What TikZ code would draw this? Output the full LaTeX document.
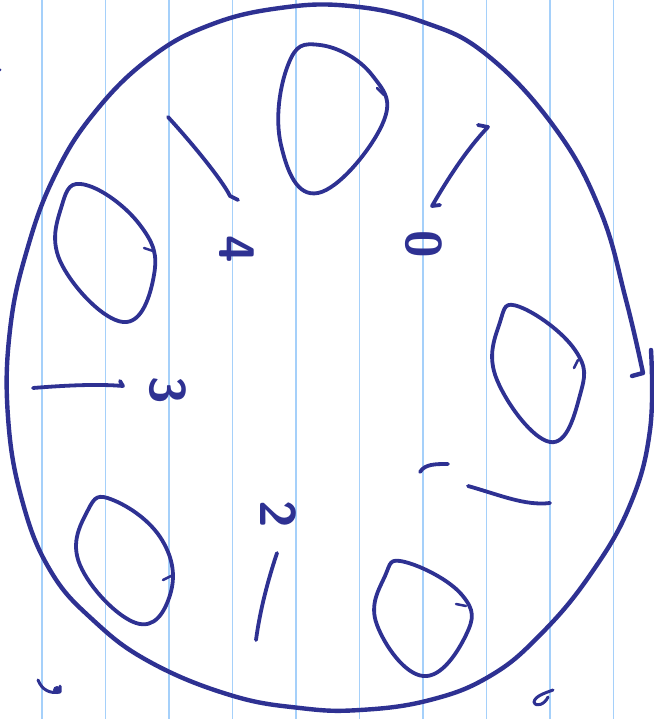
\documentclass[tikz,border=0pt]{standalone}
\usepackage{tikz}
\usetikzlibrary{arrows.meta,positioning}
\definecolor{ink}{RGB}{46,49,146}
\definecolor{ruled}{RGB}{165,208,250}
\tikzset{
  pen/.style={ink, line width=3.8pt, line cap=round, line join=round},
  digit/.style={ink, font=\fontsize{50}{50}\selectfont\sffamily\bfseries, rotate=-90, inner sep=0pt}
}

\begin{document}
\begin{tikzpicture}[x=1pt,y=-1pt]
\useasboundingbox (0,0) rectangle (653,719);
\fill[white] (0,0) rectangle (653,719);
\foreach \k in {0,...,9}
  \draw[ruled, line width=1.6pt] (42+63.5*\k,0) -- (42+63.5*\k,719);
% rim of the disc
\draw[pen, line width=4.4pt] (632,376) -- (643,373) plot[smooth, tension=0.7] coordinates {
  (643,373) (626,300) (600,210) (555,128) (487,55) (423,22) (350,6) (280,8)
  (210,25) (150,58) (95,112) (55,175) (27,250) (10,330) (8,417) (22,500)
  (50,570) (93,620) (150,662) (230,695) (300,708) (360,710) (430,700)
  (490,676) (540,635) (590,575) (630,505) (650,430) (651,350)};
% holes
\draw[pen] plot[smooth cycle, tension=0.75] coordinates {
  (320,45) (372,75) (382,125) (318,193) (281,145) (288,65)};
\draw[pen, line width=2.5pt] (377,88) -- (384,95);
\draw[pen] plot[smooth cycle, tension=0.75] coordinates {
  (86,185) (140,225) (154,275) (123,322) (62,265) (62,205)};
\draw[pen, line width=2.5pt] (144,248) -- (153,251);
\draw[pen] plot[smooth cycle, tension=0.75] coordinates {
  (520,307) (575,350) (580,395) (550,442) (497,380) (500,322)};
\draw[pen, line width=2.5pt] (578,360) -- (574,368);
\draw[pen] plot[smooth cycle, tension=0.75] coordinates {
  (113,500) (162,540) (170,595) (136,623) (80,565) (88,510)};
\draw[pen, line width=2.5pt] (163,580) -- (173,575);
\draw[pen] plot[smooth cycle, tension=0.75] coordinates {
  (405,562) (462,595) (466,635) (423,676) (377,625) (385,576)};
\draw[pen, line width=2.5pt] (456,604) -- (466,606);
% strokes between the holes
\draw[pen] (168,117) .. controls (200,152) and (225,185) .. (230,196) -- (238,200);
\draw[pen] (440,205) -- (432,206) .. controls (450,175) and (468,148) .. (488,127) -- (478,125);
\draw[pen] (33,388) .. controls (70,385) and (100,384) .. (123,386) -- (120,381);
\draw[pen] (277,553) .. controls (268,580) and (260,610) .. (256,640);
\draw[pen] (420,472) .. controls (425,464) and (435,464) .. (448,464);
\draw[pen] (468,486) .. controls (500,495) and (525,506) .. (550,503);
% numbers
\node[digit] (l0) at (424,244) {0};
\node[digit] (l4) at (237,249) {4};
\node[digit] (l3) at (168,390) {3};
\node[digit] (l2) at (278,514) {2};
% stray marks
\draw[pen, line width=3pt] (38,680) .. controls (42,690) and (50,694) .. (60,692) -- (60,686);
\fill[ink] (57,690) circle (4pt);
\draw[pen, line width=3pt] (553,690) .. controls (545,693) and (535,696) .. (534,702)
  .. controls (536,708) and (545,704) .. (548,697);
\fill[ink] (0,70) circle (1.5pt);
\end{tikzpicture}
\end{document}
